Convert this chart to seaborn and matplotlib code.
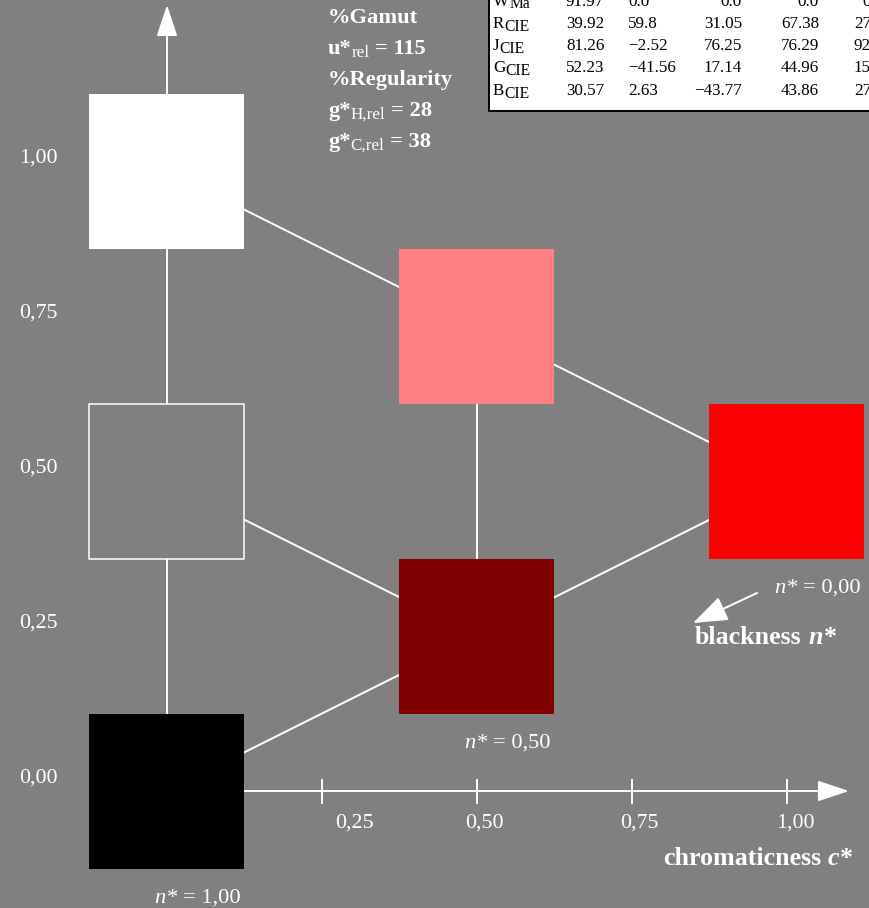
import matplotlib
matplotlib.use("Agg")
import matplotlib.pyplot as plt
import pandas as pd
import seaborn as sns

# ---- data -------------------------------------------------------------
names = ["N_black", "N_grey", "W_white", "C_dark", "C_light", "C_full"]
chromaticness = [0.0, 0.0, 0.0, 0.5, 0.5, 1.0]
lightness = [0.0, 0.5, 1.0, 0.25, 0.75, 0.5]
fill_colors = ["#000000", "#808080", "#ffffff", "#800000", "#ff8080", "#ff0000"]

# grid edges between neighbouring samples
edge_from = ["W_white", "C_light", "N_grey", "C_dark", "N_black", "C_light"]
edge_to = ["C_light", "C_full", "C_dark", "C_full", "C_dark", "C_dark"]

# blackness labels along the black-to-red edge
blackness_names = ["C_full", "C_dark", "N_black"]
blackness_values = ["0,00", "0,50", "1,00"]

xtick_values = [0.25, 0.5, 0.75, 1.0]
xtick_labels = ["0,25", "0,50", "0,75", "1,00"]
ytick_values = [0.0, 0.25, 0.5, 0.75, 1.0]
ytick_labels = ["0,00", "0,25", "0,50", "0,75", "1,00"]

gamut_u = "115"
regularity_gH = "28"
regularity_gC = "38"

table_rows = ["W", "R", "J", "G", "B"]
table_subs = ["Ma", "CIE", "CIE", "CIE", "CIE"]
col_L = ["91.97", "39.92", "81.26", "52.23", "30.57"]
col_a = ["0.0", "59.8", "\u22122.52", "\u221241.56", "2.63"]
col_b = ["0.0", "31.05", "76.25", "17.14", "\u221243.77"]
col_C = ["0.0", "67.38", "76.29", "44.96", "43.86"]
col_h = ["0", "27", "92", "15", "27"]

# ---- layout -----------------------------------------------------------
BG = "#808080"
SERIF = "Liberation Serif"
PX0, PY0, S = 167.0, 791.0, 620.0   # origin pixel and pixels per unit
W_PX, H_PX = 870, 908


def dx(px):
    return (px - PX0) / S


def dy(py):
    return (PY0 - py) / S


def pt(px):
    return px * 0.72


fig = plt.figure(figsize=(W_PX / 100, H_PX / 100), dpi=100, facecolor=BG)
ax = fig.add_axes([0, 0, 1, 1])
ax.set_facecolor(BG)
ax.set_xlim(dx(0), dx(W_PX))
ax.set_ylim(dy(H_PX), dy(0))
ax.axis("off")
renderer = fig.canvas.get_renderer()


def runs(x_px, base_px, parts, color="white", z=6):
    """Draw text pieces one after another on a common baseline."""
    for text, size_px, weight, style, shift_px, gap in parts:
        t = ax.text(dx(x_px), dy(base_px + shift_px), text,
                    fontsize=pt(size_px), fontweight=weight, fontstyle=style,
                    family=SERIF, ha="left", va="baseline", color=color,
                    zorder=z)
        x_px += t.get_window_extent(renderer).width + gap


df = pd.DataFrame({"name": names, "c": chromaticness, "v": lightness})
pos = df.set_index("name")

# connecting lines
seg_rows = []
for i, (a, b) in enumerate(zip(edge_from, edge_to)):
    for n in (a, b):
        seg_rows.append({"seg": i, "c": pos.loc[n, "c"], "v": pos.loc[n, "v"]})
seg_df = pd.DataFrame(seg_rows)
sns.lineplot(data=seg_df, x="c", y="v", units="seg", estimator=None,
             sort=False, color="white", linewidth=1.4, ax=ax, zorder=1,
             legend=False)

# axes with arrow heads
LW = 1.4
ax.annotate("", xy=(0, dy(5)), xytext=(0, 0),
            arrowprops=dict(arrowstyle=f"-|>,head_length={pt(27)},head_width={pt(9)}",
                            color="white", lw=LW, shrinkA=0, shrinkB=0,
                            mutation_scale=1), zorder=1)
ax.annotate("", xy=(dx(849), 0), xytext=(0, 0),
            arrowprops=dict(arrowstyle=f"-|>,head_length={pt(27)},head_width={pt(9)}",
                            color="white", lw=LW, shrinkA=0, shrinkB=0,
                            mutation_scale=1), zorder=1)
tick_half = 12.5 / S
ax.vlines(xtick_values, -tick_half, tick_half, color="white", lw=LW, zorder=1)

# colour samples as squares of side 0.25
side_pt = pt(0.25 * S)
sns.scatterplot(data=df, x="c", y="v", hue="name", hue_order=names,
                palette=dict(zip(names, fill_colors)), marker="s",
                s=side_pt ** 2, linewidth=0, legend=False, ax=ax, zorder=3)
grey = pos.loc["N_grey"]
ax.scatter([grey["c"]], [grey["v"]], marker="s", s=side_pt ** 2,
           facecolors="none", edgecolors="white", linewidths=1.1, zorder=4)

# tick labels
for v, lab in zip(ytick_values, ytick_labels):
    ax.text(dx(19), v + 8 / S, lab, fontsize=pt(22), family=SERIF,
            color="white", ha="left", va="baseline")
xlab_shift = [32, 7, 7, 8]
for t, lab, sh in zip(xtick_values, xtick_labels, xlab_shift):
    ax.text(t + sh / S, dy(828), lab, fontsize=pt(22), family=SERIF,
            color="white", ha="center", va="baseline")

# blackness labels below/right of the samples
for n, val in zip(blackness_names, blackness_values):
    x_px = PX0 + pos.loc[n, "c"] * S - 13
    base = PY0 - pos.loc[n, "v"] * S + 112
    runs(x_px, base, [("n", 22.5, "normal", "italic", 0, 1.5),
                      ("*", 22.5, "normal", "normal", 0, 5.5),
                      ("= " + val, 22.5, "normal", "normal", 0, 0)])

# axis titles
runs(695, 644, [("blackness", 26, "bold", "normal", 0, 6.5),
                ("n", 26, "bold", "italic", 0, 1),
                ("*", 26, "bold", "normal", 0, 0)])
runs(663, 865, [("chromaticness", 26, "bold", "normal", 0, 6.5),
                ("c", 26, "bold", "italic", 0, 1),
                ("*", 26, "bold", "normal", 0, 0)])
ax.annotate("", xy=(dx(693), dy(623)), xytext=(dx(757), dy(593)),
            arrowprops=dict(arrowstyle=f"-|>,head_length={pt(30)},head_width={pt(11)}",
                            color="white", lw=LW, shrinkA=0, shrinkB=0,
                            mutation_scale=1), zorder=2)

# gamut / regularity block
B = 22.5
runs(328, 23, [("%Gamut", B, "bold", "normal", 0, 0)])
runs(328, 54, [("u*", B, "bold", "normal", 0, 0),
               ("rel", 17, "normal", "normal", 3, 5.5),
               ("= " + gamut_u, B, "bold", "normal", 0, 0)])
runs(328, 85, [("%Regularity", B, "bold", "normal", 0, 0)])
runs(328, 116, [("g*", B, "bold", "normal", 0, 0),
                ("H,rel", 17, "normal", "normal", 3, 5.5),
                ("= " + regularity_gH, B, "bold", "normal", 0, 0)])
runs(328, 147, [("g*", B, "bold", "normal", 0, 0),
                ("C,rel", 17, "normal", "normal", 3, 5.5),
                ("= " + regularity_gC, B, "bold", "normal", 0, 0)])

# colour data table in the corner
ax.add_patch(plt.Rectangle((dx(489), dy(111)), dx(890) - dx(489),
                           dy(-20) - dy(111), facecolor="white",
                           edgecolor="black", lw=1.4, zorder=5))
TS = 17
label_gap = {"J": 0.0}
for i, (r, sub) in enumerate(zip(table_rows, table_subs)):
    base = 5.5 + 22.3 * i
    runs(493, base, [(r, TS, "normal", "normal", 0, label_gap.get(r, 0.5)),
                     (sub, TS * 0.92, "normal", "normal", 3, 0)],
         color="black")
    ax.text(dx(566), dy(base), col_L[i], fontsize=pt(TS), family=SERIF,
            ha="left", va="baseline", color="black", zorder=6)
    ax.text(dx(628), dy(base), col_a[i], fontsize=pt(TS), family=SERIF,
            ha="left", va="baseline", color="black", zorder=6)
    ax.text(dx(742), dy(base), col_b[i], fontsize=pt(TS), family=SERIF,
            ha="right", va="baseline", color="black", zorder=6)
    ax.text(dx(819), dy(base), col_C[i], fontsize=pt(TS), family=SERIF,
            ha="right", va="baseline", color="black", zorder=6)
    ax.text(dx(871), dy(base), col_h[i], fontsize=pt(TS), family=SERIF,
            ha="right", va="baseline", color="black", zorder=6)

fig.savefig("out.png", dpi=100, facecolor=BG)
